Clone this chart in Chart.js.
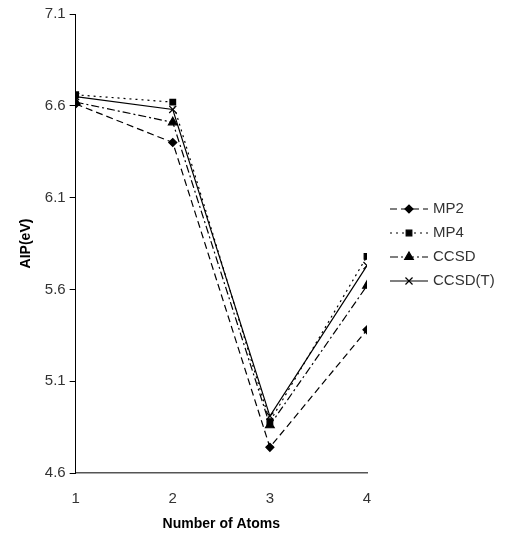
<!DOCTYPE html>
<html>
<head>
<meta charset="utf-8">
<script src="https://cdn.jsdelivr.net/npm/chart.js@4/dist/chart.umd.min.js"></script>
<style>
html,body{margin:0;padding:0;background:#fff;}
#wrap{width:512px;height:539px;position:relative;}
</style>
</head>
<body>
<div id="wrap"><canvas id="c" width="512" height="539"></canvas></div>
<script>
const atoms = [1, 2, 3, 4];
const mp2 = [6.61, 6.40, 4.74, 5.38];
const mp4 = [6.66, 6.62, 4.88, 5.78];
const ccsd = [6.62, 6.51, 4.86, 5.62];
const ccsdT = [6.65, 6.58, 4.91, 5.73];
const yTicks = [4.6, 5.1, 5.6, 6.1, 6.6, 7.1];
const xTicks = [1, 2, 3, 4];
const seriesNames = ['MP2', 'MP4', 'CCSD', 'CCSD(T)'];

function pts(vals){ return atoms.map((a,i)=>({x:a,y:vals[i]})); }

const styles = [
  {dash:[7,4], point:'rectRot', r:4},
  {dash:[2,4], point:'rect', r:4},
  {dash:[8,3,2,3], point:'triangle', r:5},
  {dash:[], point:'crossRot', r:5}
];
const allVals = [mp2, mp4, ccsd, ccsdT];
const FONT = '"Liberation Sans", Arial, sans-serif';

const datasets = allVals.map((v,i)=>({
  label: seriesNames[i],
  data: pts(v),
  borderColor:'#000',
  backgroundColor:'#000',
  borderWidth:1.2,
  borderDash: styles[i].dash,
  pointStyle: styles[i].point,
  pointRadius: styles[i].r,
  pointBorderWidth: 1.2,
  pointBorderColor:'#000',
  pointBackgroundColor:'#000',
  tension:0
}));

const legendPlugin = {
  id:'customLegend',
  afterDraw(chart){
    const ctx = chart.ctx;
    const x0 = 390, x1 = 428, yStart = 209, gap = 24;
    chart.data.datasets.forEach((ds,i)=>{
      const y = yStart + i*gap;
      ctx.save();
      ctx.strokeStyle = '#000';
      ctx.lineWidth = 1.2;
      ctx.setLineDash(ds.borderDash);
      ctx.beginPath(); ctx.moveTo(x0,y); ctx.lineTo(x1,y); ctx.stroke();
      ctx.setLineDash([]);
      Chart.helpers.drawPoint(ctx, {pointStyle: ds.pointStyle, radius: ds.pointRadius, borderWidth: 1.2, rotation:0}, (x0+x1)/2, y);
      ctx.fillStyle = '#333';
      ctx.font = '15px ' + FONT;
      ctx.textBaseline = 'middle';
      ctx.textAlign = 'left';
      ctx.fillText(ds.label, x1+5, y);
      ctx.restore();
    });
  }
};

new Chart(document.getElementById('c'), {
  type:'line',
  data:{datasets},
  options:{
    responsive:false,
    animation:false,
    layout:{padding:{left:14, right:145, top:14, bottom:0}},
    plugins:{legend:{display:false}, tooltip:{enabled:false}},
    scales:{
      x:{
        type:'linear', min:1, max:4,
        afterBuildTicks: s => { s.ticks = xTicks.map(v=>({value:v})); },
        afterFit: s => { s.height = 66; },
        grid:{display:false, drawOnChartArea:false, drawTicks:true, tickLength:5, color:'#555'},
        border:{display:true, color:'#555', width:1.5},
        ticks:{color:'#333', font:{family:FONT, size:15}, padding:12, callback:v=>String(v)},
        title:{display:true, text:'Number of Atoms', color:'#000', font:{family:FONT, size:14, weight:'bold'}, padding:{top:8, bottom:6}}
      },
      y:{
        type:'linear', min:4.6, max:7.1,
        afterBuildTicks: s => { s.ticks = yTicks.map(v=>({value:v})); },
        grid:{display:true, drawOnChartArea:false, drawTicks:true, tickLength:6, color:'#000'},
        border:{display:true, color:'#000', width:1},
        ticks:{color:'#333', font:{family:FONT, size:15}, padding:4, callback:v=>Number(v).toFixed(1)},
        title:{display:true, text:'AIP(eV)', color:'#000', font:{family:FONT, size:14, weight:'bold'}, padding:{bottom:6}}
      }
    }
  },
  plugins:[legendPlugin]
});
</script>
</body>
</html>
